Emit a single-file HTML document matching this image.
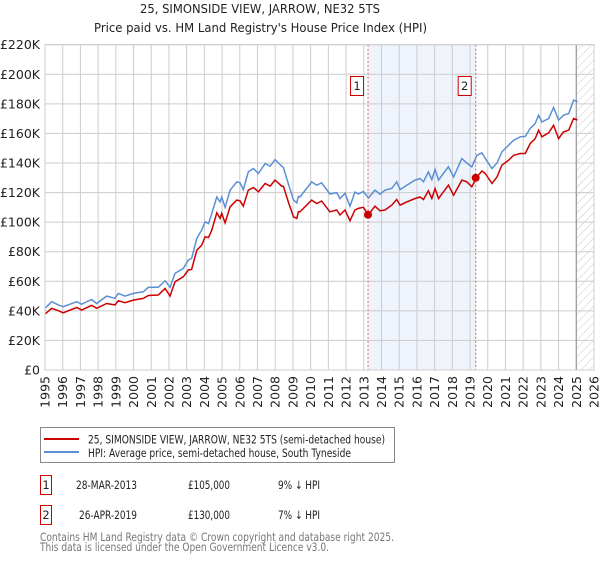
<!DOCTYPE html>
<html><head><meta charset="utf-8"><style>
body{margin:0;background:#fff;width:600px;height:560px;overflow:hidden;font-family:"Liberation Sans","DejaVu Sans",sans-serif}
svg text{font-family:"DejaVu Sans","Liberation Sans",sans-serif}
</style></head><body>
<svg id="chart" width="600" height="560" viewBox="0 0 600 560" xmlns="http://www.w3.org/2000/svg">
<defs><pattern id="hatch" width="6" height="6" patternUnits="userSpaceOnUse" patternTransform="rotate(45)"><line x1="0" y1="0" x2="0" y2="6" stroke="#c8c8c8" stroke-width="1"/></pattern></defs>
<text x="140" y="13" font-size="12.5" fill="#222" textLength="240" lengthAdjust="spacingAndGlyphs">25, SIMONSIDE VIEW, JARROW, NE32 5TS</text>
<text x="94" y="32" font-size="12.5" fill="#222" textLength="333" lengthAdjust="spacingAndGlyphs">Price paid vs. HM Land Registry's House Price Index (HPI)</text>
<g id="grid"></g><g id="marks"></g><g id="axes"></g>
<g>
<rect x="40.5" y="427.5" width="354" height="35" fill="#fff" stroke="#888"/>
<line x1="44" y1="439" x2="79" y2="439" stroke="#cc0000" stroke-width="2"/>
<text x="88" y="443.5" font-size="11.5" fill="#222" textLength="297" lengthAdjust="spacingAndGlyphs">25, SIMONSIDE VIEW, JARROW, NE32 5TS (semi-detached house)</text>
<line x1="44" y1="452" x2="79" y2="452" stroke="#5b8fd4" stroke-width="2"/>
<text x="88" y="457" font-size="11.5" fill="#222" textLength="263" lengthAdjust="spacingAndGlyphs">HPI: Average price, semi-detached house, South Tyneside</text>
</g>
<g font-size="11.5" fill="#222">
<rect x="40.5" y="475.5" width="11" height="19" fill="#fff" stroke="#cc0000"/><text x="46" y="489" text-anchor="middle">1</text>
<text x="76" y="489" textLength="61" lengthAdjust="spacingAndGlyphs">28-MAR-2013</text><text x="188" y="489" textLength="42" lengthAdjust="spacingAndGlyphs">£105,000</text><text x="278" y="489" textLength="42" lengthAdjust="spacingAndGlyphs">9% ↓ HPI</text>
<rect x="40.5" y="505.5" width="11" height="19" fill="#fff" stroke="#cc0000"/><text x="46" y="519" text-anchor="middle">2</text>
<text x="79" y="519" textLength="58" lengthAdjust="spacingAndGlyphs">26-APR-2019</text><text x="188" y="519" textLength="42" lengthAdjust="spacingAndGlyphs">£130,000</text><text x="278" y="519" textLength="42" lengthAdjust="spacingAndGlyphs">7% ↓ HPI</text>
</g>
<text x="40" y="541" font-size="11.5" fill="#777" textLength="354" lengthAdjust="spacingAndGlyphs">Contains HM Land Registry data © Crown copyright and database right 2025.</text>
<text x="40" y="551" font-size="11.5" fill="#777" textLength="289" lengthAdjust="spacingAndGlyphs">This data is licensed under the Open Government Licence v3.0.</text>
</svg>
<script>
const years=[1995.0,1995.38,1995.75,1996.03,1996.79,1997.07,1997.63,1997.92,1998.48,1998.95,1999.14,1999.52,1999.99,2000.55,2000.84,2001.40,2001.78,2002.06,2002.34,2002.81,2003.09,2003.28,2003.57,2003.85,2004.04,2004.23,2004.42,2004.70,2004.89,2004.98,2005.17,2005.45,2005.83,2006.01,2006.20,2006.48,2006.77,2007.05,2007.43,2007.71,2007.99,2008.37,2008.46,2008.74,2009.03,2009.22,2009.31,2009.40,2010.06,2010.34,2010.62,2011.09,2011.47,2011.66,2011.94,2012.22,2012.50,2012.69,2012.98,2013.26,2013.63,2013.92,2014.20,2014.58,2014.86,2015.05,2015.43,2015.90,2016.18,2016.37,2016.65,2016.84,2017.03,2017.22,2017.50,2017.78,2018.07,2018.54,2018.82,2019.10,2019.39,2019.67,2019.86,2020.24,2020.52,2020.80,2021.18,2021.46,2021.84,2022.12,2022.40,2022.68,2022.87,2023.06,2023.44,2023.72,2024.00,2024.28,2024.57,2024.85,2025.07];
const hpiValues=[41.7,46.2,44,42.8,46.2,44.5,47.7,45,50,48.5,51.8,50,51.8,52.9,55.9,55.9,60.4,55.9,65.3,68.7,74.3,75.5,89,94.6,100.2,99,105.9,117,113.7,117,110,121.6,127.2,126.6,122,134,136.3,132.9,139.6,137.8,142.3,137.8,137,126,115,113,117.5,117,127.2,125,126.6,119,120,115.9,119.5,110.8,120.3,119,120.8,116.3,121.6,118.9,121.6,122.8,127.3,122,125,128.4,129.5,127.3,134,128.8,135.6,128.4,133,137.4,130.6,143,140,137.4,145.2,146.8,143,136.3,140,147.5,152,155.4,157.7,158,163.3,166.7,172.3,167.8,170,177.5,169,172.3,173.4,182.5,181.4];
const priceValues=[37.8,41.7,40.1,38.7,42.3,40.5,43.7,41.7,45,44,46.9,45.5,47.3,48.4,50.4,50.7,55.2,50,59.7,63,67.6,68,81,84.5,90.1,89.6,94.6,106.3,102.5,106,99.5,110.4,114.9,114.4,110.8,121.6,123.4,120.5,126.1,124.3,128.4,124.3,124.3,113.7,103.6,102.5,107,107,114.9,112.6,114.2,107,108.2,104.8,108.2,101,108.2,109.3,110,105,110.8,107.7,108.2,111.5,115.3,111.5,113.7,116,117,115.3,121.2,116,122.7,116,120.5,125,118.2,128.4,127.3,123.9,130.6,134.6,132.9,126.1,130.6,138.5,141.9,145.2,146.4,146.4,153.2,156.5,162.2,157.7,160.4,165.5,156.5,161,162.2,170.1,169];
const saleYears=[2013.24,2019.32];
const saleValues=[105,130];
const saleLabels=["1","2"];
const yTicks=[0,20,40,60,80,100,120,140,160,180,200,220];
const xTicks=[1995,1996,1997,1998,1999,2000,2001,2002,2003,2004,2005,2006,2007,2008,2009,2010,2011,2012,2013,2014,2015,2016,2017,2018,2019,2020,2021,2022,2023,2024,2025,2026];
const X0=45,X1=594,Y0=370,Y1=44.7;
const xs=y=>X0+(y-1995)/(2026-1995)*(X1-X0);
const ys=v=>Y0-v/220*(Y0-Y1);
const NS="http://www.w3.org/2000/svg";
function mk(tag,attrs,parent){const e=document.createElementNS(NS,tag);for(const k in attrs)e.setAttribute(k,attrs[k]);parent.appendChild(e);return e;}
const grid=document.getElementById('grid'),marks=document.getElementById('marks'),axes=document.getElementById('axes');
const shade=mk('rect',{x:xs(saleYears[0]),y:Y1,width:xs(saleYears[1])-xs(saleYears[0]),height:Y0-Y1,fill:'#eef3fc'},grid);


const hatch=mk('rect',{x:xs(2025),y:Y1,width:X1-xs(2025),height:Y0-Y1,fill:'url(#hatch)'},grid);


yTicks.forEach(t=>{
 const l=mk('line',{x1:X0,x2:X1,y1:ys(t),y2:ys(t),stroke:'#cccccc','stroke-width':1},grid);
 
 
 const tx=mk('text',{x:40,y:ys(t)+4.5,'text-anchor':'end','font-size':12.5,fill:'#222'},axes);
 tx.textContent='£'+t+(t?'K':'');
 
 
});
xTicks.forEach(t=>{
 const l=mk('line',{x1:xs(t),x2:xs(t),y1:Y1,y2:Y0,stroke:'#cccccc','stroke-width':1},grid);
 
 
 const tx=mk('text',{x:0,y:0,'text-anchor':'end','font-size':12.5,fill:'#222',transform:`translate(${xs(t)+4.5},376) rotate(-90)`},axes);
 tx.textContent=t;
 
 
});
const vl=mk('line',{x1:xs(2025),x2:xs(2025),y1:Y1,y2:Y0,stroke:'#999','stroke-width':1.2},grid);


function pts(vals){return years.map((y,i)=>xs(y).toFixed(1)+','+ys(vals[i]).toFixed(1)).join(' ');}
const hl=mk('polyline',{points:pts(hpiValues),fill:'none',stroke:'#5b8fd4','stroke-width':1.5},marks);


const pl=mk('polyline',{points:pts(priceValues),fill:'none',stroke:'#cc0000','stroke-width':1.5},marks);


saleYears.forEach((y,i)=>{
 const d=mk('line',{x1:xs(y),x2:xs(y),y1:Y1,y2:Y0,stroke:'#e06666','stroke-width':1,'stroke-dasharray':'2,2'},marks);
 
 
 const c=mk('circle',{cx:xs(y),cy:ys(saleValues[i]),r:4,fill:'#cc0000'},marks);
 
 
 const b=mk('rect',{x:xs(y)-17.5,y:76.5,width:13,height:19,fill:'#fff',stroke:'#cc0000'},marks);
 
 
 const t=mk('text',{x:xs(y)-11,y:90,'text-anchor':'middle','font-size':11.5,fill:'#222'},marks);
 t.textContent=saleLabels[i];
 
 
});
const fr=mk('rect',{x:X0,y:Y1,width:X1-X0,height:Y0-Y1,fill:'none',stroke:'#cccccc'},axes);


</script>
</body></html>
